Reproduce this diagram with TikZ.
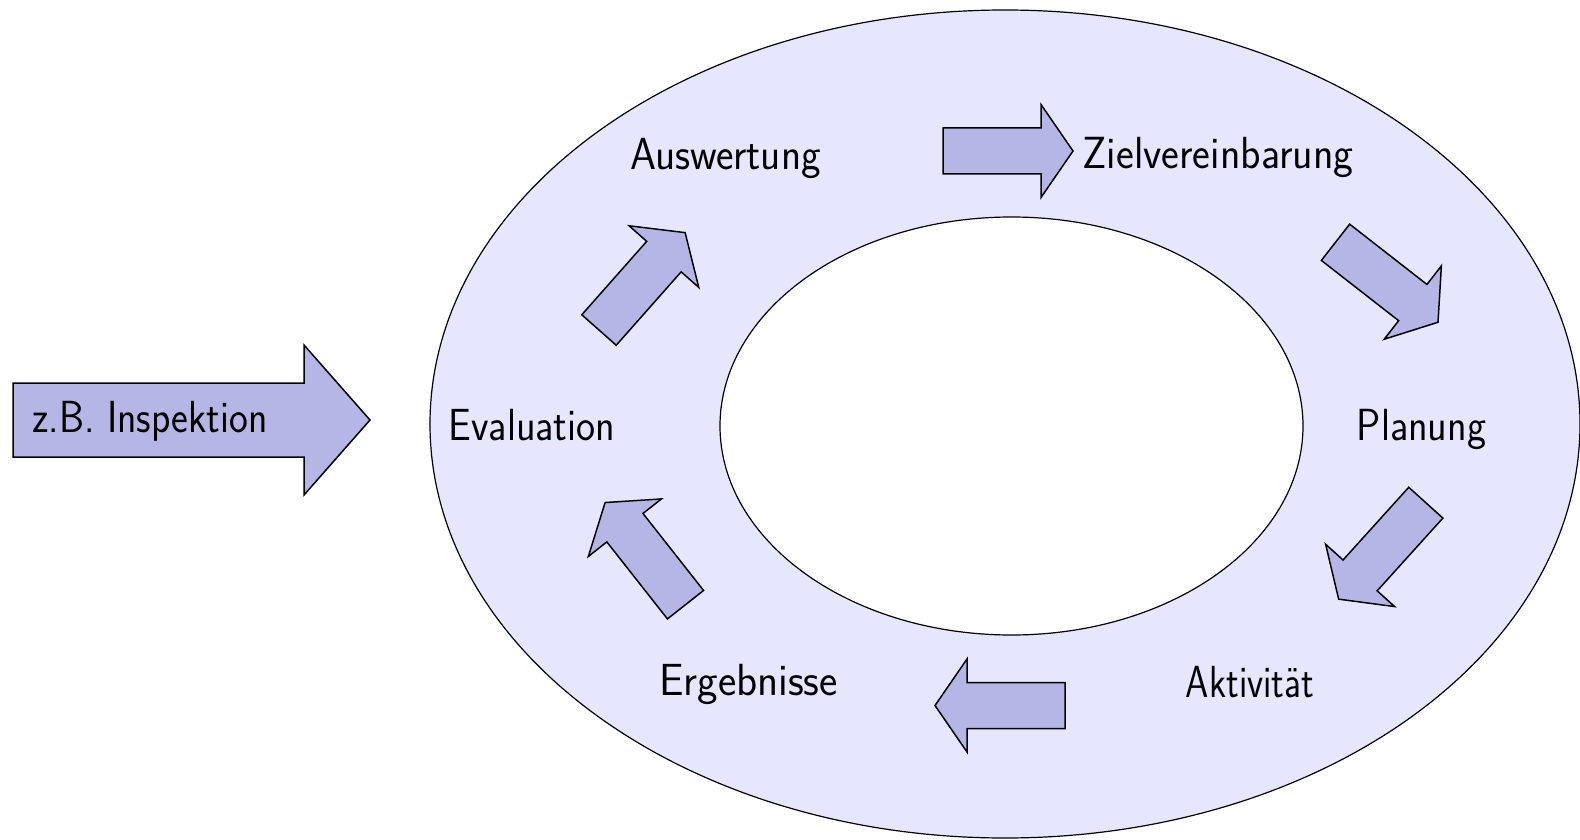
\documentclass[tikz,border=0pt]{standalone}
\usepackage{fontspec}
\usepackage{graphicx}
\definecolor{ringfill}{RGB}{230,230,255}
\definecolor{arrowfill}{RGB}{181,181,230}
\newcommand{\lbltext}[2]{\scalebox{#1}[1]{#2}}
\begin{document}
\begin{tikzpicture}[x=1pt,y=-1pt,
  lbl/.style={inner sep=0pt, anchor=base, font=\sffamily\fontsize{45}{54}\selectfont},
  arrowshape/.style={draw=black, fill=arrowfill, line width=1.5pt, line join=miter},
  flow/.pic={\draw[arrowshape] (0,23) -- (98,23) -- (98,46.5) -- (130,0) -- (98,-46.5) -- (98,-23) -- (0,-23) -- cycle;}
]
\useasboundingbox (0,0) rectangle (1580,840);
% rings
\draw[fill=ringfill, line width=1.2pt] (1005,424) ellipse [x radius=575, y radius=414];
\draw[fill=white, line width=1.2pt] (1011.5,426) ellipse [x radius=291.5, y radius=209];
% entry arrow
\draw[arrowshape] (13,383) -- (304,383) -- (304,345) -- (370,420) -- (304,495) -- (304,457) -- (13,457) -- cycle;
\node[lbl] (insp) at (150,432) {\lbltext{0.89}{z.B. Inspektion}};
% cycle arrows
\pic[rotate=0] (a1) at (943,151) {flow};
\pic[rotate=-37.95] (a2) at (1335.5,242.3) {flow};
\pic[rotate=-132.1] (a3) at (1425.8,502.7) {flow};
\pic[rotate=180] (a4) at (1065,705.5) {flow};
\pic[rotate=128.2] (a5) at (685.5,604.7) {flow};
\pic[rotate=48.5] (a6) at (599,330) {flow};
% labels
\node[lbl] (ausw) at (725.5,169) {\lbltext{0.925}{Auswertung}};
\node[lbl] (ziel) at (1218,168) {\lbltext{0.94}{Zielvereinbarung}};
\node[lbl] (plan) at (1421.5,440) {\lbltext{0.90}{Planung}};
\node[lbl] (akt) at (1250,697) {\lbltext{0.83}{Aktivität}};
\node[lbl] (erg) at (748.5,695) {\lbltext{0.97}{Ergebnisse}};
\node[lbl] (eval) at (532,440) {\lbltext{0.90}{Evaluation}};
\end{tikzpicture}
\end{document}
